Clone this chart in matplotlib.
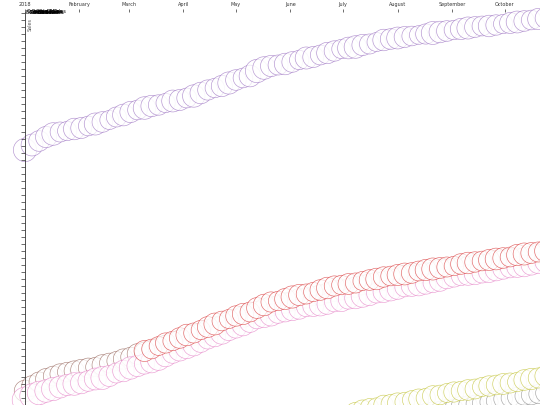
import pandas as pd
import matplotlib
matplotlib.use('Agg')
import matplotlib.pyplot as plt
from matplotlib.ticker import MultipleLocator

# cumulative sales per product, one reading every 4 days
purple_sales = [255, 260, 264, 268, 271, 273, 274, 276, 277, 279, 281, 283, 285, 288, 290,
                293, 295, 297, 299, 300, 302, 304, 305, 307, 309, 312, 315, 317, 319, 322,
                325, 327, 329, 334, 337, 339, 340, 341, 343, 345, 347, 348, 350, 352, 354,
                356, 357, 358, 360, 361, 363, 365, 366, 367, 368, 369, 370, 371, 372, 373,
                374, 375, 376, 377, 378, 379, 379, 380, 381, 382, 383, 384, 385, 386, 387]
# red starts on March 10
red_sales = [54, 56, 59, 62, 64, 67, 70, 72, 75, 78, 81, 84, 86,
             89, 91, 93, 97, 100, 103, 104, 106, 108, 110, 111, 113, 115, 117, 119,
             120, 121, 122, 124, 125, 126, 128, 129, 130, 131, 132, 134, 135, 136, 137,
             138, 139, 141, 142, 143, 144, 145, 146, 147, 148, 150, 151, 152, 153, 154]
brown_sales = [14, 19, 23, 26, 29, 31, 33, 34, 35, 37, 38, 40, 42, 44, 46,
               48, 51, 53, 55, 57, 60, 62, 65, 67, 70, 72, 75, 78, 80, 83,
               86, 88, 91, 94, 96, 99, 100, 102, 104, 106, 107, 109, 110, 112, 114,
               115, 117, 118, 120, 121, 123, 124, 126, 127, 129, 130, 131, 132, 133, 135,
               136, 137, 138, 139, 140, 141, 142, 144, 145, 146, 147, 148, 149, 151, 152]
pink_sales = [5, 9, 12, 14, 16, 18, 20, 21, 22, 24, 26, 27, 29, 32, 34,
              37, 39, 41, 43, 46, 49, 52, 55, 58, 60, 63, 66, 69, 72, 75,
              77, 80, 83, 86, 88, 90, 92, 93, 95, 96, 98, 99, 100, 101, 103,
              104, 106, 107, 109, 110, 112, 113, 115, 116, 118, 119, 120, 121, 122, 124,
              127, 128, 129, 130, 131, 132, 133, 135, 136, 137, 138, 139, 140, 142, 143]
# these two start later in the year
olive_sales = [-12, -10, -7, -5, -3, -2, 0, 1, 2, 3, 5, 6, 7, 9, 10,
               12, 13, 14, 15, 16, 18, 19, 20, 21, 22, 23, 25, 26, 27, 29]
gray_sales = [-12, -10, -8, -6, -5, -4, -3, -1, 0, 1,
              2, 3, 4, 6, 7, 8, 9, 10, 11, 12]

# order volume -> bubble size
purple_vol = [70, 62, 55, 58, 66, 52, 48, 60, 57, 50, 63, 55, 47, 52, 61,
              58, 50, 66, 59, 54, 48, 62, 57, 51, 65, 60, 53, 49, 58, 64,
              55, 50, 61, 70, 66, 58, 52, 60, 55, 49, 63, 57, 51, 59, 54,
              48, 61, 66, 58, 52, 47, 60, 55, 62, 57, 50, 45, 53, 68, 60,
              55, 49, 58, 63, 56, 51, 60, 54, 48, 57, 62, 55, 50, 58, 53]
red_vol = [57, 50, 46, 53, 49, 55, 60, 52, 48, 56, 62, 50, 47,
           54, 58, 51, 56, 60, 53, 49, 57, 64, 58, 52, 48, 55, 60, 53,
           49, 56, 52, 47, 55, 60, 54, 50, 57, 62, 55, 51, 58, 63, 56,
           52, 49, 55, 60, 54, 50, 57, 61, 55, 51, 58, 63, 56, 52, 59]
brown_vol = [60, 55, 52, 57, 50, 54, 49, 53, 58, 51, 48, 55, 50, 47, 53,
             49, 55, 51, 47, 54, 50, 56, 52, 48, 55, 51, 57, 53, 49, 55,
             51, 57, 53, 49, 55, 51, 48, 54, 50, 56, 52, 48, 54, 50, 56,
             52, 48, 54, 50, 56, 52, 48, 54, 50, 56, 52, 48, 54, 50, 56,
             52, 48, 54, 50, 56, 52, 48, 54, 50, 56, 52, 48, 54, 50, 56]
pink_vol = [85, 78, 72, 66, 70, 63, 58, 66, 60, 55, 62, 68, 57, 52, 60,
            65, 58, 53, 61, 67, 60, 55, 63, 70, 62, 56, 52, 60, 65, 58,
            53, 61, 56, 50, 58, 63, 55, 51, 59, 54, 49, 57, 62, 55, 50,
            58, 53, 60, 66, 58, 52, 57, 62, 55, 50, 56, 61, 54, 49, 55,
            60, 53, 48, 55, 59, 52, 57, 61, 54, 50, 56, 60, 53, 57, 55]
olive_vol = [50, 45, 48, 52, 46, 43, 50, 47, 53, 49, 45, 52, 48, 55, 50,
             46, 53, 49, 55, 51, 47, 54, 50, 56, 52, 48, 55, 58, 52, 56]
gray_vol = [45, 42, 47, 43, 40, 46, 42, 48, 44, 41, 47, 43, 49, 45, 42,
            48, 44, 50, 46, 48]

month_labels = ['2018', 'February', 'March', 'April', 'May', 'June',
                'July', 'August', 'September', 'October']
legend_names = ['Blue Sales', 'Orange Sales', 'Green Sales', 'Red Sales', 'Purple Sales',
                'Brown Sales', 'Pink Sales', 'Gray Sales', 'Olive Sales', 'Cyan Sales']

full_dates = pd.date_range('2018-01-01', periods=75, freq='4D')
red_dates = pd.date_range('2018-03-10', periods=58, freq='4D')
olive_dates = pd.date_range('2018-06-30', periods=30, freq='4D')
gray_dates = pd.date_range('2018-08-09', periods=20, freq='4D')

# drawing order matters: white-filled bubbles hide what is underneath
series = [
    (full_dates, purple_sales, purple_vol, '#9467bd'),
    (full_dates, brown_sales, brown_vol, '#8c564b'),
    (full_dates, pink_sales, pink_vol, '#e377c2'),
    (red_dates, red_sales, red_vol, '#d62728'),
    (gray_dates, gray_sales, gray_vol, '#7f7f7f'),
    (olive_dates, olive_sales, olive_vol, '#bcbd22'),
]

fig = plt.figure(figsize=(5.4, 4.05), dpi=100)
ax = fig.add_axes([25 / 540, 0, 1 - 25 / 540, 393 / 405])

for dates, sales, vol, col in series:
    ax.scatter(dates, sales, s=[v * 4.0 for v in vol], facecolor='white',
               edgecolor=col, linewidth=0.45, alpha=0.7, clip_on=False)

ax.set_xlim(pd.Timestamp('2018-01-01'), pd.Timestamp('2018-10-21'))
ax.set_ylim(0, 393)

months = pd.date_range('2018-01-01', periods=10, freq='MS')
ax.set_xticks(months)
ax.set_xticklabels(month_labels)
ax.xaxis.tick_top()
ax.tick_params(axis='x', direction='out', length=2.5, width=0.5, pad=1,
               labelsize=3.5, colors='#333333')
ax.yaxis.set_major_locator(MultipleLocator(7))
ax.tick_params(axis='y', direction='out', length=3, width=0.5,
               labelleft=False, colors='#333333')

for side in ['right', 'bottom', 'top']:
    ax.spines[side].set_visible(False)
ax.spines['left'].set_linewidth(0.6)
ax.spines['left'].set_color('#333333')

ax.text(0.006, 0.985, 'Sales', rotation=90, transform=ax.transAxes,
        va='top', ha='left', fontsize=3.5, color='#555555')

# squeezed legend in the corner
for i, name in enumerate(legend_names):
    fig.text((26 + i * 1.4) / 540, 1 - 12 / 405, name, fontsize=3.5,
             va='center', ha='left', color='black')

fig.savefig('out.png', dpi=100)
